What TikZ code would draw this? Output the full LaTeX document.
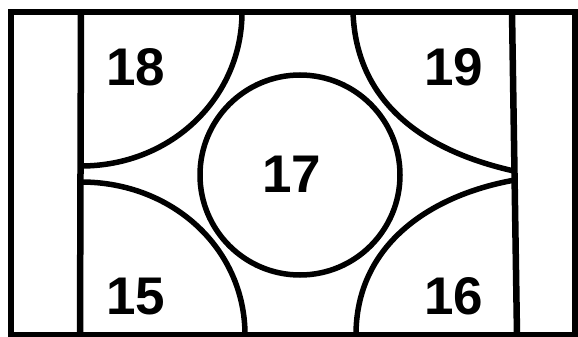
\documentclass[tikz,border=0pt]{standalone}
\usepackage{fontspec}
\setmainfont{Liberation Sans}
\usetikzlibrary{positioning}
\definecolor{ink}{gray}{0}

\begin{document}
\begin{tikzpicture}[x=1pt,y=-1pt,line width=5.5pt,draw=ink,
  num/.style={font=\fontsize{53}{53}\selectfont\bfseries,anchor=base,inner sep=0pt,text=ink}]
\useasboundingbox (0,0) rectangle (578,337);
\draw[line width=6.5pt] (11,12) rectangle (575,335);
\draw[line width=6.5pt] (81,12)--(80,335);
\draw[line width=6.5pt] (512,12)--(517,335);
\draw (300,175) circle (100pt);
\draw (242,12) .. controls (242,97) and (172,166) .. (81,166);
\draw (81,182) .. controls (173,182) and (245,249) .. (245,335);
\draw (353,12) .. controls (356,100) and (420,150) .. (514,171);
\draw (515,180) .. controls (430,195) and (356,245) .. (356,335);
\node[num] (n18) at (136,85) {18};
\node[num] (n19) at (454,85) {19};
\node[num] (n17) at (292,192) {17};
\node[num] (n15) at (136,314) {15};
\node[num] (n16) at (454,314) {16};
\end{tikzpicture}
\end{document}
